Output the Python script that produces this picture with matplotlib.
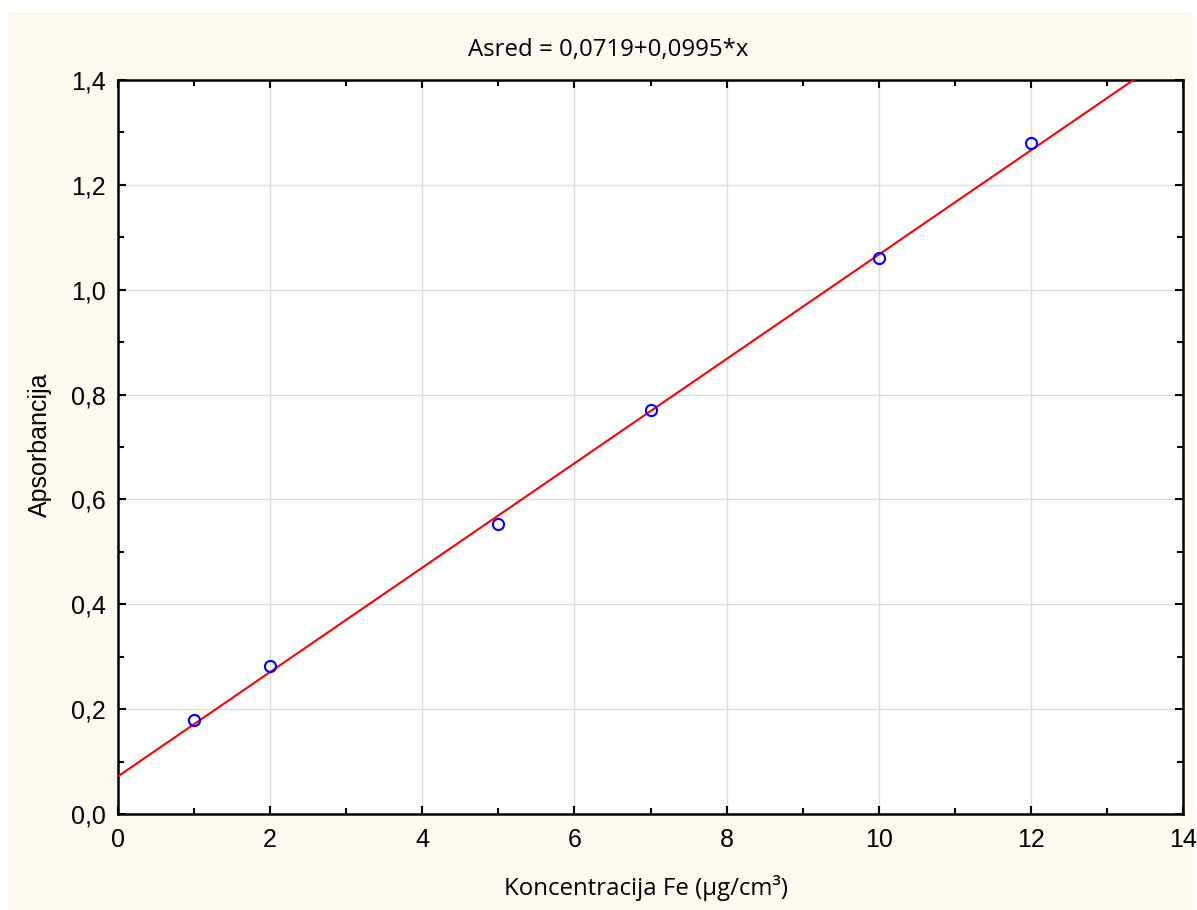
import numpy as np
import matplotlib
matplotlib.use("Agg")
import matplotlib.pyplot as plt
from matplotlib.patches import Rectangle
from matplotlib.ticker import MultipleLocator, FuncFormatter

# measured calibration points
conc = [1, 2, 5, 7, 10, 12]
absorb = [0.179, 0.282, 0.553, 0.771, 1.061, 1.280]

# fit reported in the title
intercept = 0.0719
slope = 0.0995

title = "Asred = 0,0719+0,0995*x"
xlabel = "Koncentracija Fe (\u00b5g/cm\u00b3)"
ylabel = "Apsorbancija"

W, H = 1197, 910
fig = plt.figure(figsize=(W / 100, H / 100), dpi=100)
fig.patch.set_facecolor("white")
fig.patches.append(Rectangle((8 / W, 0), (1193 - 8) / W, (910 - 12) / H,
                             transform=fig.transFigure, facecolor="#fef9ef",
                             edgecolor="none", zorder=-5))

ax = fig.add_axes([118 / W, (910 - 814) / H, (1183 - 118) / W, (814 - 80) / H])
ax.set_facecolor("white")

xs = np.array([0, 14])
ax.plot(xs, intercept + slope * xs, color="red", lw=1.5, zorder=3)
ax.plot(conc, absorb, "o", mfc="none", mec="blue", mew=1.5, ms=8, zorder=4)

ax.set_xlim(0, 14)
ax.set_ylim(0, 1.4)
ax.xaxis.set_major_locator(MultipleLocator(2))
ax.xaxis.set_minor_locator(MultipleLocator(1))
ax.yaxis.set_major_locator(MultipleLocator(0.2))
ax.yaxis.set_minor_locator(MultipleLocator(0.1))
ax.yaxis.set_major_formatter(FuncFormatter(lambda v, p: f"{v:.1f}".replace(".", ",")))
ax.grid(True, which="major", color="#dcdcdc", lw=1)
ax.set_axisbelow(True)

for s in ax.spines.values():
    s.set_linewidth(1.8)
ax.tick_params(which="both", direction="in", top=True, right=True, width=1.5,
               labelsize=18, labelfontfamily="Liberation Sans")
ax.tick_params(axis="y", pad=9)
ax.tick_params(axis="x", pad=10)
ax.tick_params(which="major", length=6)
ax.tick_params(which="minor", length=4)

fig.text(608 / W, 1 - 50 / H, title, ha="center", va="center",
         fontsize=17.3, family="Open Sans")
fig.text(646 / W, 1 - 888 / H, xlabel, ha="center", va="center",
         fontsize=17.3, family="Open Sans")
fig.text(40 / W, 1 - 445 / H, ylabel, ha="center", va="center", rotation=90,
         fontsize=18, family="Liberation Sans")

fig.savefig("out.png", dpi=100)
